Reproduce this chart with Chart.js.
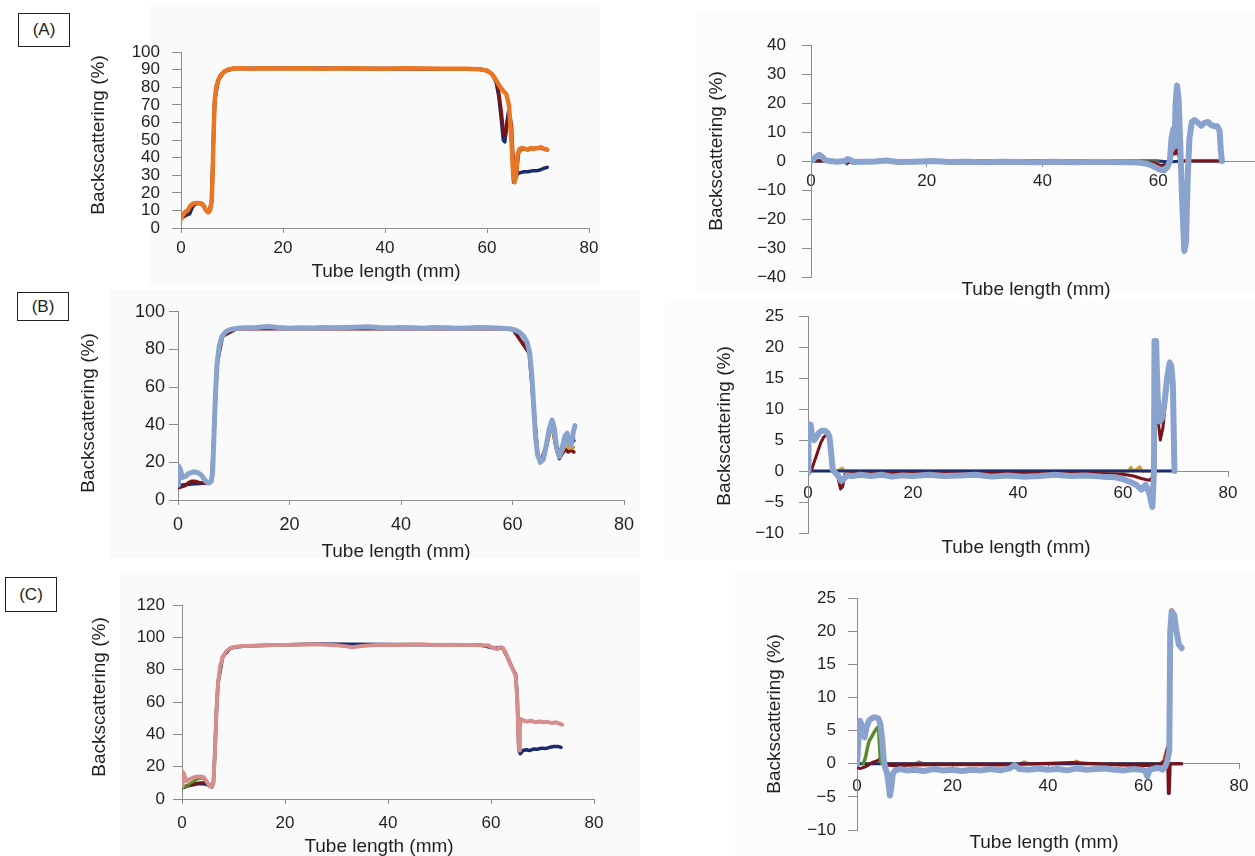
<!DOCTYPE html>
<html>
<head>
<meta charset="utf-8">
<script src="https://cdn.jsdelivr.net/npm/chart.js@4.4.1/dist/chart.umd.min.js"></script>
<style>
  html, body { margin: 0; padding: 0; width: 1255px; height: 856px; overflow: hidden; background: #fff; }
  body { position: relative; font-family: "Liberation Sans", Arial, sans-serif; }
  .bg { position: absolute; background: #fafafa; }
  .tag { position: absolute; border: 1.5px solid #222; font-size: 17px; color: #231f20; background: #fff;
         display: flex; align-items: center; justify-content: center; box-sizing: border-box; }
</style>
</head>
<body>
<div class="bg" style="left:150px;top:5px;width:450px;height:280px;"></div>
<div class="bg" style="left:696px;top:13px;width:559px;height:280px;background:#fcfcfc;"></div>
<div class="bg" style="left:110px;top:290px;width:530px;height:268px;"></div>
<div class="bg" style="left:665px;top:298px;width:590px;height:262px;background:#fcfcfc;"></div>
<div class="bg" style="left:120px;top:572px;width:520px;height:284px;"></div>
<div class="bg" style="left:735px;top:572px;width:520px;height:284px;background:#fcfcfc;"></div>
<div class="tag" style="left:18px;top:13px;width:52px;height:34px;">(A)</div>
<div class="tag" style="left:17px;top:292px;width:52px;height:29px;">(B)</div>
<div class="tag" style="left:5px;top:577px;width:52px;height:35px;">(C)</div>
<script>
// ---- data: [tube length (mm), backscattering (%)] ----
// (A) left: profiles
const aOrange = [[0,5],[0.3,7],[0.8,9],[1.3,10],[1.8,12.5],[2.4,14],[3.2,14.3],[4,14],[4.5,12.5],[4.9,10],[5.3,9],[5.7,10],[6,15],[6.2,30],[6.4,55],[6.6,72],[6.9,80],[7.3,84],[7.8,87],[8.5,89],[9.3,90.2],[10.3,90.7],[12,90.8],[14,90.6],[16,90.8],[20,90.7],[24,90.8],[28,90.6],[32,90.8],[36,90.7],[40,90.6],[44,90.8],[48,90.7],[52,90.6],[56,90.6],[58.5,90.3],[60,89.5],[61,87.5],[61.8,84],[62.5,80.5],[63.2,78],[63.8,76],[64.3,70],[64.8,50],[65.1,32],[65.4,26],[65.7,30],[66,42],[66.4,45],[67,45.5],[67.5,45],[68,44.5],[68.6,45.5],[69.2,45],[70,45.5],[70.6,46],[71.2,45],[71.8,44.5]];
const aNavy = [[0,6],[0.6,6.5],[1.2,7.5],[1.7,8],[2.1,11],[2.6,13.5],[3.5,14],[4.3,13.5],[4.9,10],[5.3,9],[5.7,10],[6,15],[6.2,30],[6.4,55],[6.6,72],[6.9,80],[7.3,84],[7.8,87],[8.5,89],[9.3,90.2],[10.3,90.7],[20,90.8],[40,90.7],[58.5,90.4],[60,89.6],[61,87.5],[61.8,83],[62.3,75],[62.8,62],[63.2,50],[63.5,49],[63.8,58],[64.2,66],[64.6,62],[64.9,45],[65.2,26],[65.6,28],[66,31],[66.6,31.5],[67.2,32],[68,32],[68.8,32.5],[69.6,32.5],[70.4,33],[71.2,34],[71.8,34.5]];
const aDarkRed = [[0,5.5],[1,8.5],[2,12],[3,14.2],[4,14],[5,10],[5.5,9.2],[6,15],[6.3,45],[6.6,72],[7.3,84],[8.5,89],[10.3,90.7],[30,90.7],[58.5,90.3],[60,89.5],[61,87.5],[61.8,83.5],[62.3,77],[62.8,66],[63.2,55],[63.6,52],[64,60],[64.4,64],[64.8,58],[65.1,40],[65.4,27],[65.8,32],[66.2,43],[66.8,45],[68,45],[70,45.5],[71.5,45]];

// (A) right: delta backscattering
const aDeltaBlue = [[0,0],[0.4,0.6],[0.9,1.6],[1.4,2.2],[1.9,1.6],[2.4,0.4],[3.2,0],[4.5,-0.2],[5.8,0],[6.3,0.7],[6.8,0.4],[7.3,-0.3],[9,-0.2],[11,-0.1],[13,0.2],[15,-0.3],[18,-0.2],[21,0],[24,-0.3],[27,-0.2],[30,-0.4],[33,-0.2],[36,-0.3],[39,-0.4],[42,-0.2],[45,-0.4],[48,-0.3],[51,-0.3],[54,-0.4],[56.5,-0.5],[58,-0.9],[59.2,-1.8],[60.2,-2.9],[61,-3.2],[61.6,-2],[62,0],[62.3,8],[62.6,11],[62.8,5],[63,20],[63.25,26],[63.5,22],[63.8,6],[64.1,-12],[64.5,-31],[64.8,-28],[65.1,-5],[65.4,8],[65.8,13.5],[66.3,14.2],[66.9,13.2],[67.4,12.2],[68,13.2],[68.6,13.5],[69.1,12.5],[69.7,12],[70.2,12],[70.6,10.5],[70.8,4],[71,0]];
const aDeltaNavy = [[0,0],[20,0],[40,0],[60,0],[62,-0.3],[64,0],[71,0]];
const aDeltaDarkRed = [[0,0.2],[6,0],[6.5,-0.6],[7,0],[20,0],[40,0],[55,-0.2],[59,-0.6],[60.5,-1.5],[61.5,-1],[62.2,1.5],[62.7,2.8],[63,2.5],[63.2,26.5],[63.4,3],[63.8,0],[71,0]];
const aDeltaOlive = [[0,0],[5.8,-0.3],[6.2,-1],[6.6,0.8],[7,0],[60,0]];

// (B) left: profiles
const bBlue = [[0,8],[0.1,18],[0.4,16.5],[0.8,12],[1.3,12.5],[2,14.2],[2.8,15],[3.5,14.6],[4.2,13.2],[4.8,10.5],[5.4,9],[5.9,9.6],[6.2,14],[6.4,30],[6.7,55],[7,72],[7.4,82],[7.9,87],[8.6,89.5],[9.4,90.6],[10.5,91.2],[12,91.5],[14,91.6],[16,92.2],[18,91.6],[20,91.3],[22,91.5],[24,91.4],[26,91.7],[28,91.5],[30,91.6],[32,91.8],[34,92.1],[36,91.6],[38,91.4],[40,91.7],[42,91.5],[44,91.3],[46,91.6],[48,91.5],[50,91.2],[52,91.4],[54,91.7],[56,91.5],[58,91.3],[59.5,91],[60.5,90.3],[61.3,89],[62,87],[62.6,84],[63.1,78],[63.5,65],[63.8,50],[64.1,35],[64.5,24],[65,20],[65.5,21.5],[66,28],[66.6,38],[67.1,42.5],[67.5,38],[67.9,28],[68.4,23],[68.9,27],[69.4,34],[69.8,35.5],[70.1,30],[70.5,29],[70.9,36],[71.2,39.5]];
const bNavy = [[0,7.5],[0.8,8],[1.6,8.2],[2.4,8.5],[3.2,8.6],[4,8.8],[4.8,9],[5.5,9],[6,10],[6.2,14],[6.4,30],[6.7,55],[7,72],[7.4,82],[7.9,87],[8.6,89.5],[10.5,91.2],[30,91.5],[58,91.3],[60.5,90.3],[62,87],[63.1,78],[63.8,50],[64.5,24],[65,20.5],[65.6,22],[66.2,30],[66.8,40],[67.3,41],[67.8,30],[68.4,24],[69,28],[69.5,33],[70,31],[70.5,30],[71,31.5]];
const bDarkRed = [[0,6.5],[0.6,7],[1.2,7.5],[1.8,9],[2.4,10],[3,10],[3.6,9.5],[4.2,9],[5,9],[5.6,9],[6,10],[6.4,30],[7,72],[8,87],[10.5,91],[60,91],[63,78],[64.5,24],[65,20],[66.2,30],[67,41],[67.8,28],[68.4,22],[69,25],[69.5,27],[70,25.5],[70.5,26.5],[71,25.5]];
const bGold = [[66.2,30],[67,40],[67.8,29],[68.4,23],[69,26],[69.5,29],[70,28],[70.5,27.5],[71,28]];
const bTeal = [[67.8,30],[68.4,25],[69,30],[69.5,33],[70,31],[70.5,32],[71,33]];

// (B) right: delta backscattering
const bDeltaBlue = [[0,-0.2],[0.1,7.5],[0.5,7.5],[0.8,5.8],[1.2,5],[1.6,5.5],[2.1,6.2],[2.6,6.5],[3.2,6.5],[3.7,6.2],[4.1,5.5],[4.4,3],[4.7,0.3],[5.2,-0.3],[5.8,-0.8],[6.3,-1.6],[6.8,-1.3],[7.4,-0.7],[8.5,-0.8],[10,-0.6],[12,-0.8],[14,-0.6],[16,-0.9],[18,-0.7],[20,-0.8],[23,-0.6],[26,-0.8],[29,-0.7],[32,-0.6],[35,-0.9],[38,-0.7],[41,-0.9],[44,-0.8],[47,-0.6],[50,-0.8],[53,-0.7],[56,-0.9],[58.5,-1],[60,-1.3],[61.5,-1.8],[62.5,-2.2],[63.5,-3],[64.3,-2.2],[65,-3.5],[65.6,-5.8],[65.9,0],[66,21],[66.3,21],[66.6,12],[67,8],[67.4,8.5],[67.9,11],[68.4,15],[68.9,17.5],[69.2,17],[69.5,14],[69.8,0]];
const bDeltaNavy = [[0,0],[10,0],[30,0],[50,0],[69.8,0]];
const bDeltaDarkRed = [[0,-0.5],[0.6,0],[1.2,1.5],[1.8,3],[2.4,4.5],[3,5.5],[3.8,6],[4.4,3],[4.7,0],[5.5,-0.3],[6.2,-2.9],[6.6,-2.5],[7,-0.5],[9,-0.2],[20,-0.3],[40,-0.3],[55,-0.4],[60,-0.5],[62,-0.8],[63.5,-1.2],[65,-1.5],[65.6,-1],[65.9,0],[66,20.5],[66.3,19],[66.6,9],[67.1,5],[67.6,7],[68.2,12],[68.8,16],[69.2,16.5],[69.6,10],[69.8,0]];
const bDeltaGold = [[5.5,0],[6,0.2],[6.5,0.5],[7,0],[61,0],[61.5,0.6],[62,0],[62.8,0.4],[63.2,0.7],[63.6,0],[65.9,0],[66.05,21.2],[66.3,20],[66.6,10],[67,8],[67.5,9],[68.2,13],[68.9,17.8],[69.3,16],[69.7,0]];

// (C) left: profiles
const cPink = [[0,8],[0.1,17],[0.4,15.5],[0.8,11],[1.3,12],[2,13],[2.8,13.8],[3.5,14],[4.2,13.5],[4.8,11],[5.3,8],[5.8,7.5],[6.1,10],[6.4,30],[6.7,55],[7,72],[7.4,82],[7.9,88],[8.6,91.5],[9.4,93.5],[10.4,94.3],[12,94.7],[14,94.9],[16,95.2],[18,95.3],[20,95.4],[22,95.5],[24,95.6],[26,95.8],[28,95.5],[30,95.2],[32,94.5],[33,94],[34.5,94.6],[36,95],[38,95.3],[40,95.5],[42,95.4],[44,95.7],[46,95.8],[48,95.5],[50,95.3],[52,95.5],[54,95.4],[56,95.3],[58,95.2],[59.5,95],[60.5,93.5],[61.2,92.8],[61.8,94],[62.3,93.5],[62.8,91],[63.3,87],[63.8,83],[64.3,80],[64.8,76],[65.1,62],[65.3,40],[65.45,30],[65.6,44],[65.8,49.5],[66.3,48.5],[67,48],[67.8,48.5],[68.6,47.5],[69.4,48],[70.2,47.5],[71,47.8],[71.8,47],[72.6,47.5],[73.4,46.5],[73.8,46]];
const cNavy = [[0,7],[0.8,8],[1.6,8.5],[2.4,9],[3.2,9.5],[4,9.5],[4.8,9],[5.4,8],[5.8,7.5],[6.1,10],[6.4,30],[6.7,55],[7,72],[7.9,88],[9.4,93.5],[12,94.8],[26,96],[40,95.6],[58,95.3],[60.5,93.5],[62.3,93.5],[63.3,87],[64.3,80],[64.8,77],[65.1,62],[65.4,30],[65.7,28],[66.2,30],[66.8,30.5],[67.5,30],[68.3,31],[69,30.8],[69.8,31.5],[70.6,31.2],[71.4,32],[72.2,32.5],[73,32.5],[73.6,32]];
const cDarkRed = [[0.5,7],[1,8],[1.5,8.5],[2,9],[2.5,9.5],[3,9.8],[3.5,10],[4,10],[4.5,10],[5,9.5],[5.5,8.5],[6,9]];
const cGreen = [[0.3,7],[0.8,8],[1.3,9],[1.8,10],[2.3,11],[2.8,12],[3.3,12.8],[3.8,13],[4.2,12.5],[4.5,11]];

// (C) right: delta backscattering
const cDeltaBlue = [[0,0],[0.3,3.5],[0.6,6.5],[0.9,6],[1.2,4.5],[1.6,4],[2,5.5],[2.5,6.5],[3,6.8],[3.5,7],[4,7],[4.5,6.8],[4.9,6],[5.3,3.5],[5.6,0.5],[5.9,-0.5],[6.3,-1.5],[6.6,-3],[6.9,-4.8],[7.2,-3.5],[7.5,-1.5],[8,-1],[9,-0.8],[10.5,-1],[12,-0.9],[14,-1.1],[16,-0.8],[18,-1],[20,-0.9],[22,-1.1],[24,-0.9],[26,-1],[28,-0.8],[30,-1],[32,-0.7],[33,-0.2],[34,-0.8],[36,-0.9],[38,-0.7],[40,-0.9],[42,-0.8],[44,-1],[46,-0.7],[48,-0.9],[50,-0.8],[52,-0.7],[54,-0.9],[56,-1],[58,-0.8],[60.3,-1],[60.8,-1.9],[61.3,-0.9],[63,-0.6],[64,-0.9],[64.6,-0.4],[65,0.5],[65.4,2],[65.6,20],[65.9,23],[66.4,22.5],[66.9,20],[67.4,18],[68,17.5]];
const cDeltaNavy = [[0,0],[20,0],[40,0],[60,0],[68,0]];
const cDeltaDarkRed = [[0,-0.6],[0.8,-0.7],[1.6,-0.5],[2.4,-0.2],[3.2,0.2],[4,0.4],[4.6,0.6],[5,1],[5.3,3],[5.5,0.5],[6,-0.2],[8,-0.3],[12,-0.2],[20,-0.1],[30,-0.2],[45,0.2],[55,-0.2],[63,-0.3],[64.5,0.5],[65,2.5],[65.2,-4.5],[65.4,-4.5],[65.6,0],[68,0]];
const cDeltaGreen = [[1.3,0],[1.8,1],[2.2,2.5],[2.6,3.5],[3,4],[3.4,4.5],[3.8,5],[4.2,5.4],[4.5,5.6],[4.7,3],[4.9,0.5],[5.2,0]];
const cDeltaOrange = [[6,0],[12,0],[13,0.3],[14,0],[34,0],[35,0.3],[36,0],[45,0],[46,0.4],[47,0],[64,0],[64.8,2],[65.2,1],[65.6,20],[65.9,23.3],[66.4,22.8],[67,20],[67.6,17.5],[68,17.2]];

// ---- styling ----
const TXT = 'rgb(35,31,32)';
const AXIS = 'rgb(140,140,140)';
const FONT = '"Liberation Sans", Arial, sans-serif';
const C = {
  orange: 'rgb(232,118,34)', blue: 'rgb(137,162,206)', pink: 'rgb(213,142,140)',
  navy: 'rgb(24,44,110)', darkRed: 'rgb(120,20,25)', green: 'rgb(90,140,40)',
  gold: 'rgb(205,160,60)', teal: 'rgb(60,110,110)', olive: 'rgb(90,95,80)'
};

// draws axis titles at fixed page positions
const panelTitles = {
  id: 'panelTitles',
  afterDraw(chart, args, o) {
    const ctx = chart.ctx;
    ctx.save();
    ctx.font = '19px ' + FONT;
    ctx.fillStyle = TXT;
    ctx.textAlign = 'center';
    ctx.textBaseline = 'middle';
    ctx.fillText('Tube length (mm)', o.xTitle[0] - o.origin[0], o.xTitle[1] - o.origin[1]);
    ctx.translate(o.yTitle[0] - o.origin[0], o.yTitle[1] - o.origin[1]);
    ctx.rotate(-Math.PI / 2);
    ctx.fillText('Backscattering (%)', 0, 0);
    ctx.restore();
  }
};

function makePanel(p) {
  const Wy = 110, padT = 14, padR = 24, padB = 60;
  const left = p.plot.l - Wy, top = p.plot.t - padT;
  const w = p.plot.r + padR - left, h = p.plot.b + padB - top;
  const cv = document.createElement('canvas');
  cv.width = w; cv.height = h;
  cv.style.cssText = `position:absolute;left:${left}px;top:${top}px;width:${w}px;height:${h}px;`;
  document.body.appendChild(cv);

  const minus = v => (v < 0 ? '\u2212' + Math.abs(v) : String(v));
  const tickFont = { family: FONT, size: p.fs || 17 };
  new Chart(cv, {
    type: 'line',
    data: {
      datasets: p.series.map(s => ({
        data: s.data.map(([x, y]) => ({ x, y })),
        borderColor: s.color,
        borderWidth: s.width,
        pointRadius: 0,
        tension: 0,
        fill: false,
        borderJoinStyle: 'round',
        borderCapStyle: 'round'
      }))
    },
    options: {
      responsive: false,
      animation: false,
      events: [],
      layout: { padding: { left: 0, top: padT, right: padR, bottom: p.cross ? padB : padB - 30 } },
      plugins: {
        legend: { display: false },
        tooltip: { enabled: false },
        panelTitles: { origin: [left, top], xTitle: p.xTitle, yTitle: p.yTitle }
      },
      scales: {
        x: {
          type: 'linear', min: 0, max: 80,
          position: p.cross ? { y: 0 } : 'bottom',
          afterFit: s => { s.height = 30; },
          ticks: { stepSize: 20, autoSkip: false, color: TXT, font: tickFont, padding: p.xPad, maxRotation: 0 },
          grid: { drawOnChartArea: false, drawTicks: true, tickLength: 5, color: AXIS },
          border: { display: true, color: AXIS, width: 1 }
        },
        y: {
          min: p.y[0], max: p.y[1],
          afterFit: s => { s.width = Wy; },
          ticks: { stepSize: p.y[2], autoSkip: false, color: TXT, font: tickFont, padding: p.yPad, callback: minus },
          grid: { drawOnChartArea: false, drawTicks: true, tickLength: 9, color: AXIS },
          border: { display: true, color: AXIS, width: 1 }
        }
      }
    },
    plugins: [panelTitles]
  });
}

makePanel({
  plot: { l: 181, r: 589, t: 44, b: 228 }, y: [0, 100, 10], cross: false, yPad: 12, xPad: 5,
  xTitle: [386, 272], yTitle: [99, 135],
  series: [
    { data: aOrange, color: C.orange, width: 4.5 },
    { data: aDarkRed, color: C.darkRed, width: 3.5 },
    { data: aNavy, color: C.navy, width: 3.5 }
  ]
});
makePanel({
  plot: { l: 811, r: 1274, t: 33, b: 277 }, y: [-40, 40, 10], cross: true, yPad: 16, xPad: 5,
  xTitle: [1036, 290], yTitle: [717, 151],
  series: [
    { data: aDeltaBlue, color: C.blue, width: 6 },
    { data: aDeltaDarkRed, color: C.darkRed, width: 3 },
    { data: aDeltaOlive, color: C.olive, width: 3 },
    { data: aDeltaNavy, color: C.navy, width: 3 }
  ]
});
makePanel({
  plot: { l: 178, r: 624, t: 311, b: 500 }, y: [0, 100, 20], cross: false, yPad: 4, xPad: 9, fs: 18,
  xTitle: [396, 552], yTitle: [89, 413],
  series: [
    { data: bBlue, color: C.blue, width: 5 },
    { data: bTeal, color: C.teal, width: 3 },
    { data: bGold, color: C.gold, width: 3 },
    { data: bDarkRed, color: C.darkRed, width: 3.5 },
    { data: bNavy, color: C.navy, width: 3.5 }
  ]
});
makePanel({
  plot: { l: 808, r: 1228, t: 305, b: 533 }, y: [-10, 25, 5], cross: true, yPad: 15, xPad: 7,
  xTitle: [1016, 548], yTitle: [725, 426],
  series: [
    { data: bDeltaBlue, color: C.blue, width: 6 },
    { data: bDeltaDarkRed, color: C.darkRed, width: 3 },
    { data: bDeltaNavy, color: C.navy, width: 3 },
    { data: bDeltaGold, color: C.gold, width: 3 }
  ]
});
makePanel({
  plot: { l: 182, r: 594, t: 601, b: 799 }, y: [0, 120, 20], cross: false, yPad: 8, xPad: 9,
  xTitle: [379, 847], yTitle: [100, 697],
  series: [
    { data: cPink, color: C.pink, width: 4 },
    { data: cGreen, color: C.green, width: 3 },
    { data: cDarkRed, color: C.darkRed, width: 3 },
    { data: cNavy, color: C.navy, width: 3.5 }
  ]
});
makePanel({
  plot: { l: 857, r: 1239, t: 590, b: 830 }, y: [-10, 25, 5], cross: true, yPad: 12, xPad: 7,
  xTitle: [1044, 843], yTitle: [775, 714],
  series: [
    { data: cDeltaBlue, color: C.blue, width: 6 },
    { data: cDeltaGreen, color: C.green, width: 3.5 },
    { data: cDeltaDarkRed, color: C.darkRed, width: 3 },
    { data: cDeltaNavy, color: C.navy, width: 3 },
    { data: cDeltaOrange, color: C.orange, width: 3 }
  ]
});
</script>
</body>
</html>
